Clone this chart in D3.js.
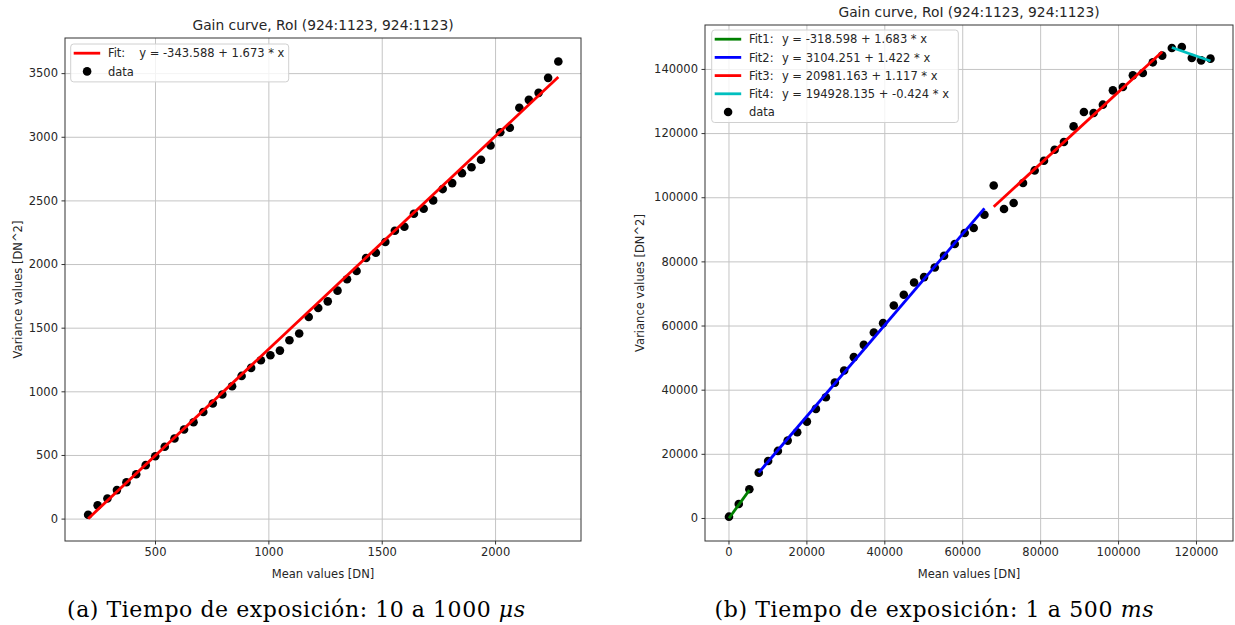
<!DOCTYPE html>
<html>
<head>
<meta charset="utf-8">
<title>Gain curve</title>
<script src="https://d3js.org/d3.v7.min.js"></script>
<style>
  body { margin: 0; background: #fff; }
  text { font-family: 'DejaVu Sans', sans-serif; fill: #262626; }
  .caption { font-family: 'DejaVu Serif', 'Liberation Serif', serif; fill: #000; }
  .axis .tick line { stroke: #333; }
  .grid .tick line { stroke: #c4c4c4; stroke-width: 1; }
  .grid path { display: none; }
</style>
</head>
<body>
<script>
// ---- panel (a): 10 to 1000 us ----
var meanA = [205, 247, 290, 332, 374, 417, 459, 501, 543, 586, 628, 670, 713, 755, 797, 840,
  882, 924, 967, 1009, 1051, 1093, 1136, 1178, 1220, 1262, 1305, 1347, 1389, 1431, 1474, 1516,
  1558, 1600, 1642, 1685, 1727, 1769, 1811, 1854, 1896, 1938, 1980, 2023, 2065, 2107, 2149,
  2192, 2234, 2279];
var varA = [30, 104, 158, 224, 286, 349, 420, 490, 564, 629, 700, 757, 838, 904, 975, 1040,
  1121, 1184, 1244, 1283, 1320, 1401, 1454, 1584, 1655, 1707, 1791, 1880, 1945, 2047, 2089, 2173,
  2262, 2293, 2395, 2435, 2500, 2589, 2636, 2714, 2761, 2820, 2932, 3036, 3071, 3228, 3290,
  3345, 3463, 3591];
var fitsA = [
  {name: "Fit:", eq: "y = -343.588 + 1.673 * x", a: -343.588, b: 1.673, x0: 205, x1: 2279, color: "#ff0000"}
];
var ticksAx = [500, 1000, 1500, 2000];
var ticksAy = [0, 500, 1000, 1500, 2000, 2500, 3000, 3500];

// ---- panel (b): 1 to 500 ms ----
var meanB = [128, 2640, 5360, 7770, 10180, 12690, 15200, 17640, 20130, 22440, 25000, 27310,
  29690, 32180, 34740, 37310, 39690, 42440, 45000, 47640, 50210, 52950, 55330, 58080, 60640,
  62950, 65700, 68080, 70720, 73200, 75600, 78590, 80980, 83720, 86100, 88590, 91230, 93720,
  96100, 98670, 101230, 103800, 106360, 108920, 111330, 113800, 116360, 118920, 121330, 123720];
var varB = [406, 4368, 8955, 14135, 17785, 20905, 24120, 26740, 30050, 34010, 37660, 42210,
  45960, 50140, 53980, 57820, 60740, 66240, 69580, 73420, 75100, 78100, 81750, 85400, 88830,
  90390, 94540, 103680, 96320, 98190, 104430, 108360, 111390, 114820, 117220, 122090, 126580, 126270,
  128860, 133320, 134380, 138000, 138750, 142060, 144150, 146550, 146860, 143430, 142680, 143210];
var fitsB = [
  {name: "Fit1:", eq: "y = -318.598 + 1.683 * x", a: -318.598, b: 1.683, x0: 128, x1: 5360, color: "#008000"},
  {name: "Fit2:", eq: "y = 3104.251 + 1.422 * x", a: 3104.251, b: 1.422, x0: 7770, x1: 65700, color: "#0000ff"},
  {name: "Fit3:", eq: "y = 20981.163 + 1.117 * x", a: 20981.163, b: 1.117, x0: 68080, x1: 111330, color: "#ff0000"},
  {name: "Fit4:", eq: "y = 194928.135 + -0.424 * x", a: 194928.135, b: -0.424, x0: 113800, x1: 123720, color: "#00bfbf"}
];
var ticksBx = [0, 20000, 40000, 60000, 80000, 100000, 120000];
var ticksBy = [0, 20000, 40000, 60000, 80000, 100000, 120000, 140000];

var svg = d3.select("body").append("svg")
  .attr("width", 1235).attr("height", 625);

function drawPanel(cfg) {
  var x = d3.scaleLinear().domain(cfg.xDomain).range([cfg.left, cfg.right]);
  var y = d3.scaleLinear().domain(cfg.yDomain).range([cfg.bottom, cfg.top]);
  var g = svg.append("g");

  // grid
  g.append("g").attr("class", "grid")
    .attr("transform", "translate(0," + cfg.bottom + ")")
    .call(d3.axisBottom(x).tickValues(cfg.xTicks).tickSize(-(cfg.bottom - cfg.top)).tickFormat(""));
  g.append("g").attr("class", "grid")
    .attr("transform", "translate(" + cfg.left + ",0)")
    .call(d3.axisLeft(y).tickValues(cfg.yTicks).tickSize(-(cfg.right - cfg.left)).tickFormat(""));

  // axes
  var ax = g.append("g").attr("class", "axis")
    .attr("transform", "translate(0," + cfg.bottom + ")")
    .call(d3.axisBottom(x).tickValues(cfg.xTicks).tickSize(3.5).tickPadding(3.5).tickFormat(d3.format("d")));
  var ay = g.append("g").attr("class", "axis")
    .attr("transform", "translate(" + cfg.left + ",0)")
    .call(d3.axisLeft(y).tickValues(cfg.yTicks).tickSize(3.5).tickPadding(3.5).tickFormat(d3.format("d")));
  ax.select(".domain").remove();
  ay.select(".domain").remove();
  g.selectAll(".axis .tick text").style("font-size", "11.5px")
    .style("font-family", "'DejaVu Sans', sans-serif").attr("fill", "#262626");

  // data points
  g.append("g").selectAll("circle")
    .data(cfg.xs)
    .enter().append("circle")
    .attr("cx", function(d) { return x(d); })
    .attr("cy", function(d, i) { return y(cfg.ys[i]); })
    .attr("r", 4.3)
    .attr("fill", "#000");

  // fit lines
  g.append("g").selectAll("line")
    .data(cfg.fits)
    .enter().append("line")
    .attr("x1", function(d) { return x(d.x0); })
    .attr("x2", function(d) { return x(d.x1); })
    .attr("y1", function(d) { return y(d.a + d.b * d.x0); })
    .attr("y2", function(d) { return y(d.a + d.b * d.x1); })
    .attr("stroke", function(d) { return d.color; })
    .attr("stroke-width", 2.8);

  // frame
  g.append("rect")
    .attr("x", cfg.left).attr("y", cfg.top)
    .attr("width", cfg.right - cfg.left).attr("height", cfg.bottom - cfg.top)
    .attr("fill", "none").attr("stroke", "#333").attr("stroke-width", 1);

  // titles and labels
  g.append("text")
    .attr("x", (cfg.left + cfg.right) / 2).attr("y", cfg.top - 7.8)
    .attr("text-anchor", "middle").style("font-size", "13.8px")
    .text("Gain curve, RoI (924:1123, 924:1123)");
  g.append("text")
    .attr("x", (cfg.left + cfg.right) / 2).attr("y", cfg.bottom + 37)
    .attr("text-anchor", "middle").style("font-size", "11.5px")
    .text("Mean values [DN]");
  g.append("text")
    .attr("transform", "translate(" + cfg.ylabelX + "," + ((cfg.top + cfg.bottom) / 2) + ") rotate(-90)")
    .attr("text-anchor", "middle").style("font-size", "11.5px")
    .text("Variance values [DN^2]");

  // legend
  var lg = g.append("g").attr("transform", "translate(" + (cfg.left + cfg.legendDx) + "," + (cfg.top + cfg.legendDy) + ")");
  var rowH = 18.2;
  var nRows = cfg.fits.length + 1;
  lg.append("rect")
    .attr("x", 0).attr("y", 0)
    .attr("width", cfg.legendW).attr("height", nRows * rowH + 1.5)
    .attr("rx", 3)
    .attr("fill", "#fff").attr("fill-opacity", 0.8)
    .attr("stroke", "#d0d0d0");
  cfg.fits.forEach(function(f, i) {
    var cy = 9.2 + i * rowH;
    lg.append("line")
      .attr("x1", 3).attr("x2", 29.5).attr("y1", cy).attr("y2", cy)
      .attr("stroke", f.color).attr("stroke-width", 2.8);
    var t = lg.append("text")
      .attr("y", cy + 4.2)
      .style("font-size", "11.5px");
    t.append("tspan").attr("x", 37.2).text(f.name);
    t.append("tspan").attr("x", 37.2 + cfg.eqDx).text(f.eq);
  });
  var dy = 9.2 + cfg.fits.length * rowH;
  lg.append("circle").attr("cx", 16.4).attr("cy", dy).attr("r", 4.3).attr("fill", "#000");
  lg.append("text")
    .attr("x", 37.2).attr("y", dy + 4.2)
    .style("font-size", "11.5px")
    .text("data");

  // caption
  var cap = svg.append("text")
    .attr("class", "caption")
    .attr("x", cfg.capX).attr("y", 617)
    .attr("text-anchor", "middle")
    .attr("textLength", cfg.capW)
    .attr("lengthAdjust", "spacing")
    .style("font-size", "22px");
  cap.append("tspan").text(cfg.capText);
  cap.append("tspan").style("font-style", "italic").text(cfg.capUnit);
}

drawPanel({
  left: 65, right: 581, top: 38, bottom: 541,
  xDomain: [103, 2379], yDomain: [-176, 3776],
  xTicks: ticksAx, yTicks: ticksAy,
  xs: meanA, ys: varA, fits: fitsA,
  ylabelX: 22, legendW: 218, legendDx: 5.7, legendDy: 6, eqDx: 31.3,
  capX: 296, capW: 458, capText: "(a) Tiempo de exposición: 10 a 1000 ", capUnit: "μs"
});

drawPanel({
  left: 705, right: 1233, top: 25, bottom: 541,
  xDomain: [-6026, 129500], yDomain: [-7180, 153700],
  xTicks: ticksBx, yTicks: ticksBy,
  xs: meanB, ys: varB, fits: fitsB,
  ylabelX: 644, legendW: 246.6, legendDx: 6.7, legendDy: 5, eqDx: 33,
  capX: 934, capW: 439, capText: "(b) Tiempo de exposición: 1 a 500 ", capUnit: "ms"
});
</script>
</body>
</html>
